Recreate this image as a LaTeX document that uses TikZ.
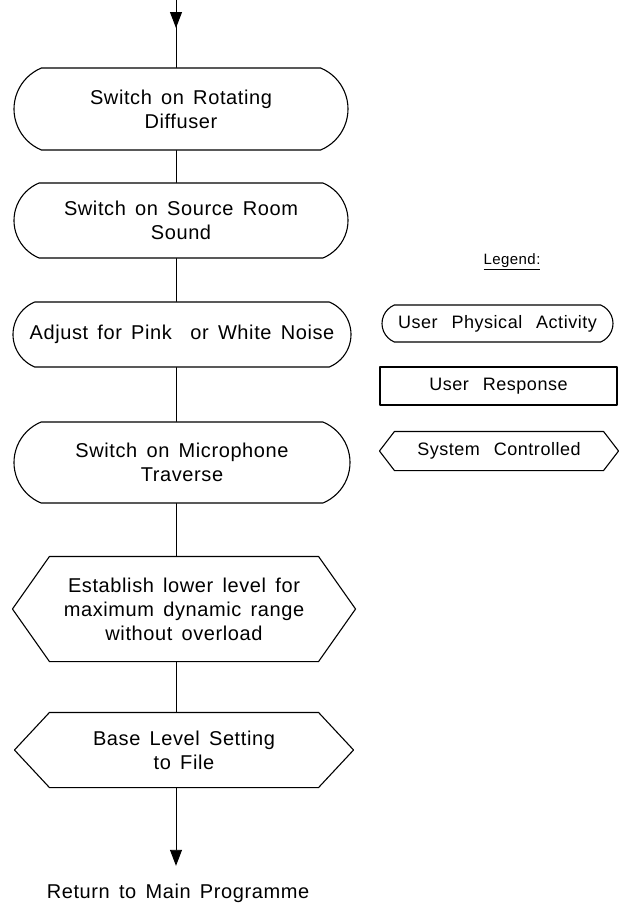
\documentclass[tikz,border=0pt]{standalone}
\usepackage{fontspec}
\setmainfont{Liberation Sans}[LetterSpace=3,WordSpace=1.5]
\newfontfamily\legfamily{Liberation Sans}[LetterSpace=3,WordSpace=2.5]
\usetikzlibrary{arrows.meta,shapes.misc}
\newcommand\legfont{\legfamily\fontsize{18}{21}\selectfont}
\begin{document}
\begin{tikzpicture}[x=1pt, y=-1pt, line width=1.1pt, line join=round, line cap=round,
	act/.style={rounded rectangle, rounded rectangle arc length=135, draw, align=center, inner sep=2pt, minimum width=338pt},
	resp/.style={rectangle, draw, align=center, inner sep=2pt},
	sys/.style={rectangle, align=center, inner sep=0pt},
	legtext/.style={font=\legfont},
	link/.style={line width=0.9pt},
	flow/.style={link, -{Triangle[width=12pt,length=16pt]}},
	font=\fontsize{20}{24}\selectfont]
	\useasboundingbox (0,0) rectangle (619,905);
	\path (176,0) coordinate (in)
	(176,28) coordinate (intip);
	% main sequence
	\node[act, minimum height=82pt] (b1) at (181,109) {Switch on Rotating\\Diffuser};
	\node[act, minimum height=75pt] (b2) at (181,220.5) {Switch on Source Room\\Sound};
	\node[act, minimum height=65pt, minimum width=342pt] (b3) at (182,334.5) {Adjust for Pink \ or White Noise};
	\node[act, minimum height=81pt, minimum width=340pt] (b4) at (182,462.5) {Switch on Microphone\\Traverse};
	\node[sys, minimum width=342pt, minimum height=104pt] (h1) at (184,609) {Establish lower level for\\maximum dynamic range\\without overload};
	\node[sys, minimum width=338pt, minimum height=74pt] (h2) at (184,750) {Base Level Setting\\to File};
	\node (ret) at (178,893) {Return to Main Programme};
	% legend
	\node[font=\fontsize{15}{18}\selectfont] (leg) at (512,262) {\underline{Legend:}};
	\node[act, legtext, minimum width=235pt, minimum height=37pt] (l1) at (497.5,323.5) {User Physical Activity};
	\node[resp, legtext, minimum width=237pt, minimum height=38pt] (l2) at (498.5,386) {User Response};
	\node[sys, legtext, minimum width=238pt, minimum height=38pt] (l3) at (499,451) {System Controlled};
	% hexagons
	\foreach \n/\d in {h1/37,h2/35,l3/15}{
		\draw (\n.west) -- ([xshift=\d pt]\n.north west) -- ([xshift=-\d pt]\n.north east) -- (\n.east) -- ([xshift=-\d pt]\n.south east) -- ([xshift=\d pt]\n.south west) -- cycle;
	}
	% connectors
	\draw[link] (in) -- (b1.north -| in);
	\draw[flow] (in) -- (intip);
	\foreach \a/\b in {b1/b2,b2/b3,b3/b4,b4/h1,h1/h2}{
		\draw[link] (\a.south -| in) -- (\b.north -| in);
	}
	\draw[flow] (h2.south -| in) -- ([yshift=14pt]ret.north -| in);
\end{tikzpicture}
\end{document}
